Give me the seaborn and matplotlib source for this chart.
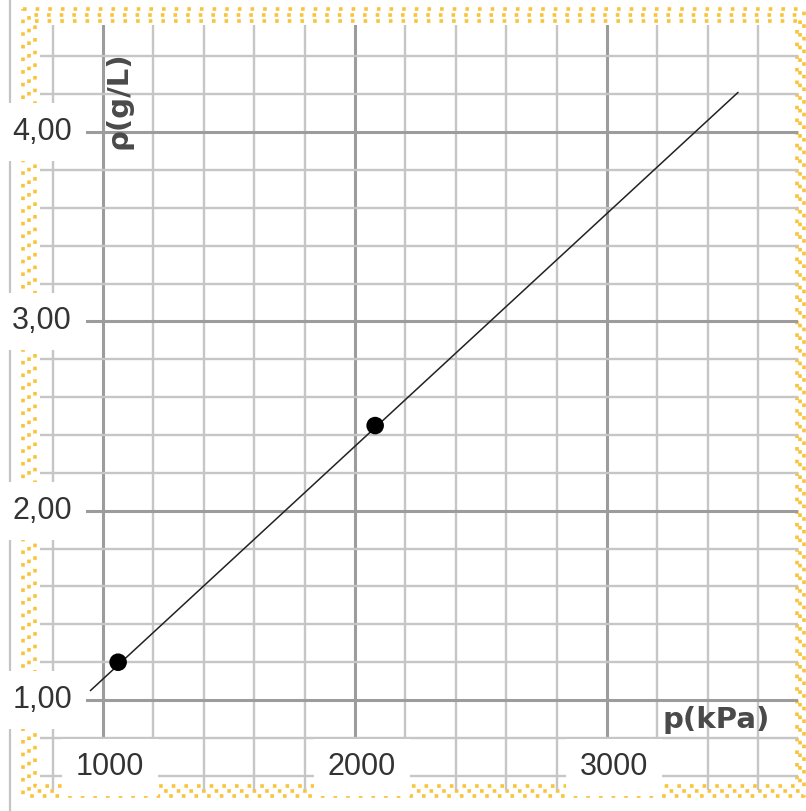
import numpy as np
import pandas as pd
import seaborn as sns
import matplotlib.pyplot as plt
from matplotlib.ticker import MultipleLocator
from matplotlib.lines import Line2D

# measured points and fitted line (p in kPa, rho in g/L)
point_p = [1060, 2080]
point_rho = [1.20, 2.45]
line_p = [950, 3520]
line_rho = [1.05, 4.21]

x_ticks = [1000, 2000, 3000]
x_tick_labels = ["1000", "2000", "3000"]
y_ticks = [1.0, 2.0, 3.0, 4.0]
y_tick_labels = ["1,00", "2,00", "3,00", "4,00"]

W, H = 806, 811

sns.set_style("white")
plt.rcParams['font.family'] = ['Liberation Sans', 'DejaVu Sans']

fig = plt.figure(figsize=(W / 100, H / 100), dpi=100)
# axes placed over the grid paper area (pixel box 40..798 x 25..790)
ax = fig.add_axes([40 / W, (H - 790) / H, 758 / W, 765 / H])
ax.patch.set_visible(False)
ax.set_xlim(750, 3758)
ax.set_ylim(0.525, 4.566)

ax.xaxis.set_major_locator(MultipleLocator(1000))
ax.xaxis.set_minor_locator(MultipleLocator(200))
ax.yaxis.set_major_locator(MultipleLocator(1))
ax.yaxis.set_minor_locator(MultipleLocator(0.2))
ax.grid(which='minor', color='#c6c6c6', linewidth=1.7)
ax.grid(which='major', color='#9c9c9c', linewidth=2.2)
ax.set_axisbelow(True)
ax.tick_params(which='both', length=0, labelbottom=False, labelleft=False)
for s in ax.spines.values():
    s.set_visible(False)

line_df = pd.DataFrame({'p': line_p, 'rho': line_rho})
pts_df = pd.DataFrame({'p': point_p, 'rho': point_rho})
sns.lineplot(data=line_df, x='p', y='rho', color='#222222', linewidth=1.1, ax=ax, zorder=3)
sns.scatterplot(data=pts_df, x='p', y='rho', color='black', s=160, edgecolor='none', ax=ax, zorder=4)
ax.set_xlabel("")
ax.set_ylabel("")


def px(x, y):
    return x / W, 1 - y / H


# gray rule at the far left (drawn under the axes so label boxes hide it)
x0, y0 = px(10, 0)
x1, y1 = px(10, H)
fig.add_artist(Line2D([x0, x1], [y0, y1], color='#c4c4c4', linewidth=1.6, zorder=-2))

# yellow dotted border
gold = '#f9c43c'
for (l, t, r, b), off in [((23, 9, 804, 796), 0), ((29, 15, 800, 791), 2), ((35, 21, 797, 786), 0)]:
    xs = [l, r, r, l, l]
    ys = [t, t, b, b, t]
    fx = [px(a, c)[0] for a, c in zip(xs, ys)]
    fy = [px(a, c)[1] for a, c in zip(xs, ys)]
    fig.add_artist(Line2D(fx, fy, color=gold, linewidth=2.6,
                          linestyle=(off, (1, 2.5)), zorder=-1))

# tick labels on white boxes
box = dict(boxstyle='square,pad=0.45', facecolor='white', edgecolor='none')
for v, lab in zip(y_ticks, y_tick_labels):
    ax.text(758, v, lab, ha='center', va='center', fontsize=22, color='#333333',
            bbox=box, clip_on=False, zorder=10)
xbox = dict(boxstyle='square,pad=0.45', facecolor='white', edgecolor='none')
for v, lab in zip(x_ticks, x_tick_labels):
    ax.text(v + 28, 0.645, lab, ha='center', va='center', fontsize=22, color='#333333',
            bbox=xbox, clip_on=False, zorder=10)

# axis names
ax.text(3433, 0.894, "p(kPa)", ha='center', va='center', fontsize=21, fontweight='bold',
        color='#4a4a4a', family=['DejaVu Sans'], zorder=6)
ax.text(1063, 4.17, "ρ(g/L)", ha='center', va='center', fontsize=21, fontweight='bold',
        rotation=90, color='#4a4a4a', family=['DejaVu Sans'], zorder=6)

fig.savefig("out.png", dpi=100)
